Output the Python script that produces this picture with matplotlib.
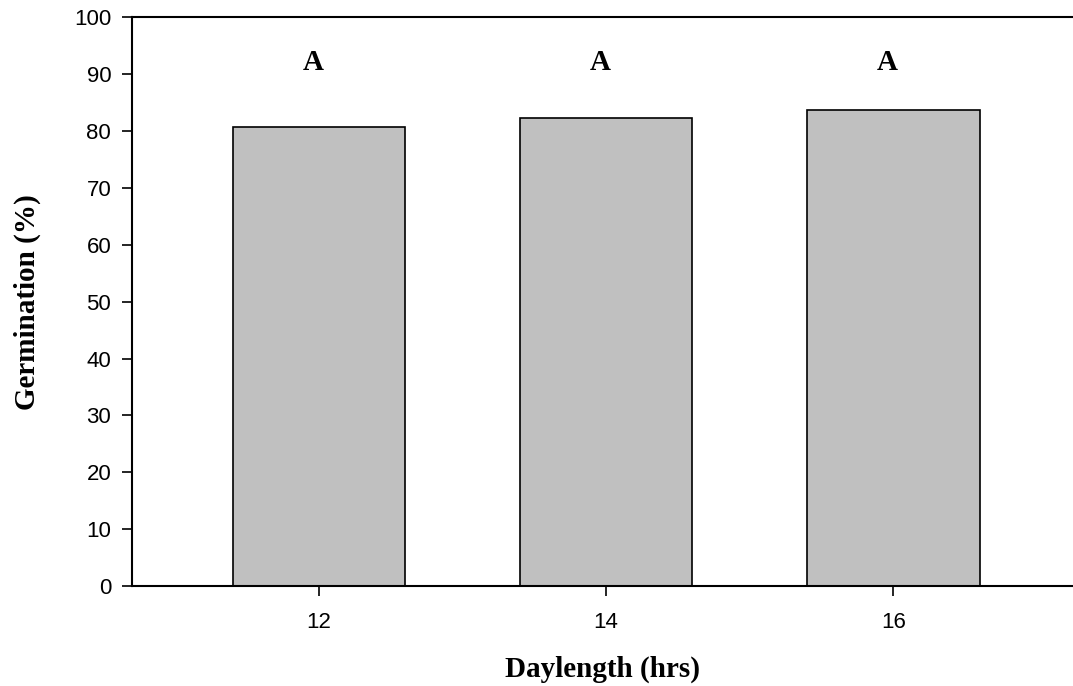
import matplotlib
matplotlib.use("Agg")
import matplotlib.pyplot as plt

daylength = [12, 14, 16]
germination = [80.8, 82.3, 83.7]
letters = ["A", "A", "A"]
letter_y = 92

fig = plt.figure(figsize=(10.73, 6.86), dpi=100)
ax = fig.add_axes([0.123, 0.1458, 0.877, 0.8287])

ax.bar(daylength, germination, width=1.2, color="#c0c0c0", edgecolor="black", linewidth=1.2)
for x, lab in zip(daylength, letters):
	ax.text(x - 0.04, letter_y, lab, ha="center", va="center", fontsize=21,
			fontweight="bold", family="Liberation Serif")

ax.set_xlim(10.70, 17.25)
ax.set_ylim(0, 100)
ax.set_xticks(daylength)
ax.set_yticks(range(0, 101, 10))
ax.spines["right"].set_visible(False)
for s in ["left", "bottom", "top"]:
	ax.spines[s].set_linewidth(1.5)
ax.tick_params(axis="both", direction="out", length=7, width=1.2, labelsize=16)
ax.tick_params(axis="y", pad=8)
ax.tick_params(axis="x", pad=12)
for lab in ax.get_xticklabels() + ax.get_yticklabels():
	lab.set_family("Liberation Sans")

ax.set_xlabel("Daylength (hrs)", fontsize=21, fontweight="bold",
			  family="Liberation Serif", labelpad=16)
ax.set_ylabel("Germination (%)", fontsize=21, fontweight="bold",
			  family="Liberation Serif", labelpad=24)

fig.savefig("out.png", dpi=100)
